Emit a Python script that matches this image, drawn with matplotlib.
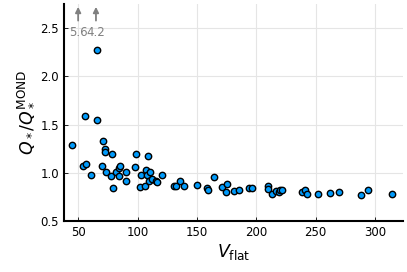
import matplotlib
matplotlib.use("Agg")
import matplotlib.pyplot as plt

# flat rotation velocity and Q ratio
vflat = [65.5, 55.6, 65.5, 44.9, 70.9, 72.3, 72.9, 78.8, 70.3, 54.5,
         56.2, 60.7, 73.2, 77.7, 79.1, 81.9, 84.2, 85.3, 84.7, 90.7,
         90.4, 98.6, 97.5, 103.1, 102.3, 106.8, 106.0, 109.0, 108.2, 110.7,
         110.0, 111.9, 115.8, 116.4, 120.9, 130.8, 132.2, 135.6, 139.3, 150.3,
         158.2, 159.0, 164.4, 171.5, 175.1, 174.3, 181.4, 185.3, 193.8, 196.6,
         209.6, 210.1, 213.5, 216.3, 219.1, 220.2, 221.3, 238.8, 241.0, 242.7,
         251.7, 262.1, 269.7, 288.2, 293.8, 314.6]
qratio = [2.27, 1.59, 1.55, 1.29, 1.33, 1.25, 1.22, 1.20, 1.07, 1.07,
          1.09, 0.98, 1.01, 0.97, 0.84, 1.01, 1.05, 1.07, 0.97, 1.01,
          0.92, 1.19, 1.06, 0.98, 0.85, 1.03, 0.86, 1.17, 0.98, 1.01,
          0.92, 0.94, 0.91, 0.90, 0.98, 0.86, 0.86, 0.92, 0.86, 0.87,
          0.84, 0.82, 0.96, 0.85, 0.88, 0.80, 0.81, 0.82, 0.84, 0.84,
          0.86, 0.83, 0.78, 0.81, 0.80, 0.82, 0.82, 0.80, 0.82, 0.78,
          0.78, 0.79, 0.80, 0.77, 0.82, 0.78]

# off-scale points shown as arrows
out_v = [50, 65]
out_labels = ["5.6", "4.2"]

plt.rcParams["mathtext.fontset"] = "dejavusans"

fig = plt.figure(figsize=(4.07, 2.72), dpi=100)
ax = fig.add_axes([0.157, 0.1875, 0.833, 0.7975])

ax.scatter(vflat, qratio, s=21, c="#009AFA", edgecolors="black", linewidths=1.0, zorder=3)

for v, lab in zip(out_v, out_labels):
    ax.annotate("", xy=(v, 2.75), xytext=(v, 2.55),
                arrowprops=dict(arrowstyle="-|>", color="gray", lw=1.3, mutation_scale=8))
    ax.text(v, 2.46, lab, color="gray", ha="center", va="center", fontsize=8.5)

ax.set_xlim(38, 323.5)
ax.set_ylim(0.5, 2.75)
ax.set_xticks([50, 100, 150, 200, 250, 300])
ax.set_yticks([0.5, 1.0, 1.5, 2.0, 2.5])
ax.grid(True, color="#e5e5e5", linewidth=0.8)
ax.set_axisbelow(True)

for side in ["top", "right"]:
    ax.spines[side].set_visible(False)
for side in ["left", "bottom"]:
    ax.spines[side].set_linewidth(1.5)
ax.tick_params(direction="in", length=3, width=0.6, labelsize=8.5, colors="black")

ax.set_xlabel(r"$V_{\rm flat}$", fontsize=12.5, labelpad=2)
ax.set_ylabel(r"$Q_*/Q_*^{\rm MOND}$", fontsize=12.5, labelpad=4)

fig.savefig("out.png", dpi=100)
